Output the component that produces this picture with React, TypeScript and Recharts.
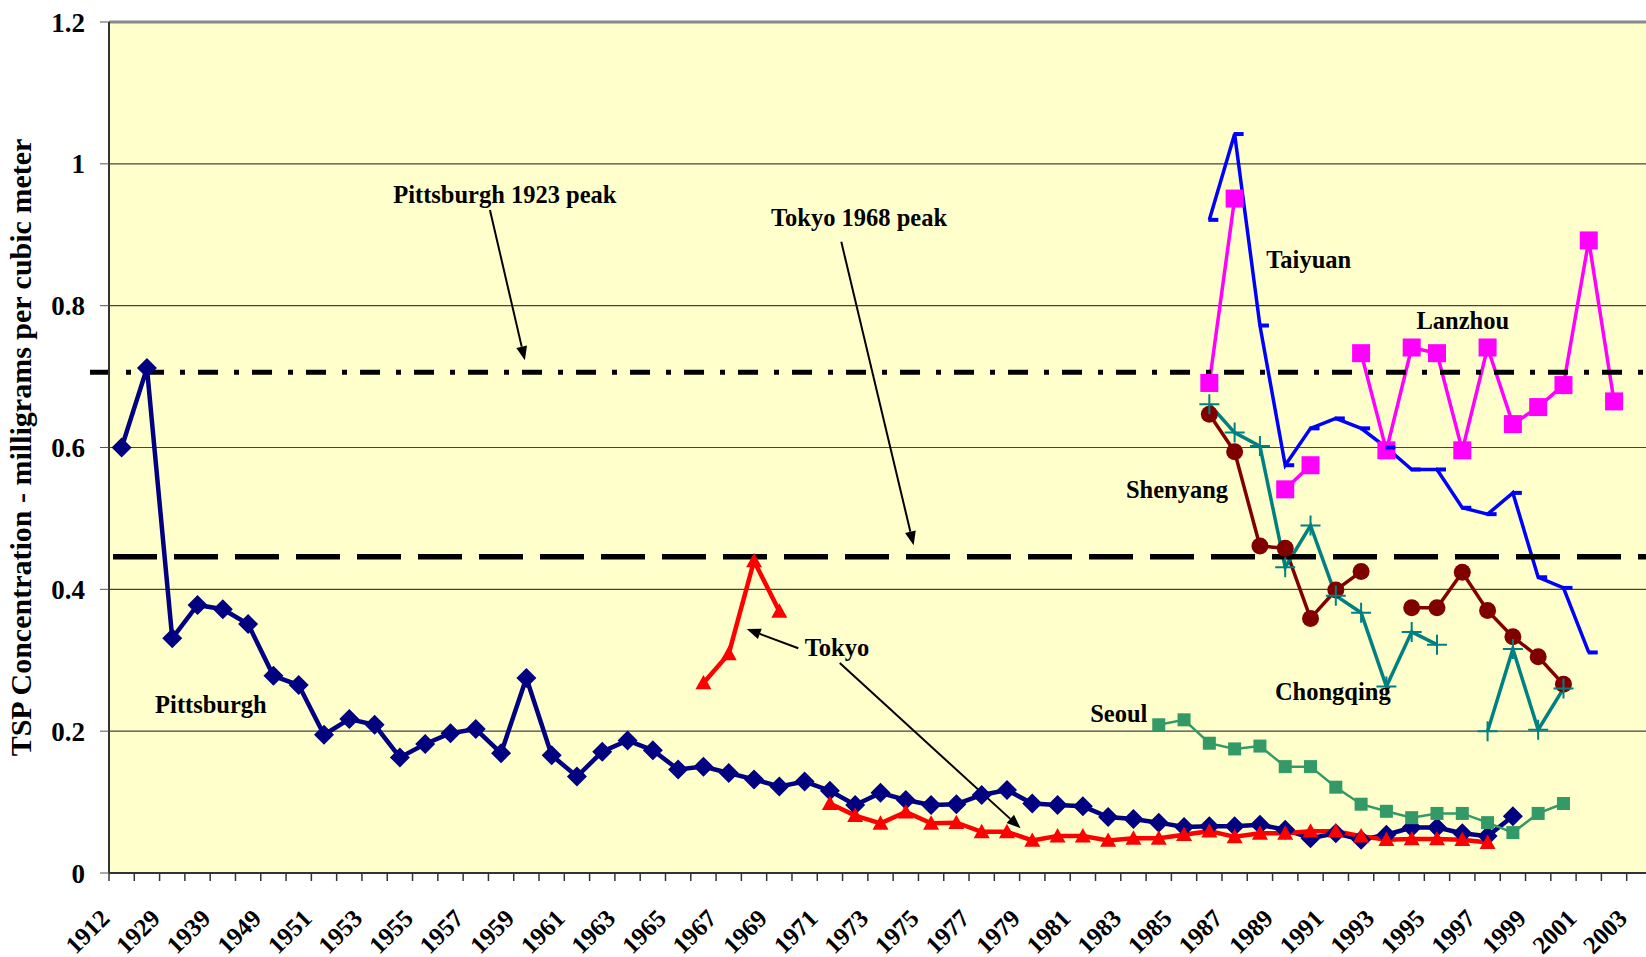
import React from "react";
import { CartesianGrid, Line, LineChart, ReferenceDot, ReferenceLine, XAxis, YAxis } from "recharts";

const FONT = "'Liberation Serif', 'Times New Roman', serif";

const years = [
  "1912", "1923", "1929", "1934", "1939", "1944", "1949", "1950", "1951", "1952",
  "1953", "1954", "1955", "1956", "1957", "1958", "1959", "1960", "1961", "1962",
  "1963", "1964", "1965", "1966", "1967", "1968", "1969", "1970", "1971", "1972",
  "1973", "1974", "1975", "1976", "1977", "1978", "1979", "1980", "1981", "1982",
  "1983", "1984", "1985", "1986", "1987", "1988", "1989", "1990", "1991", "1992",
  "1993", "1994", "1995", "1996", "1997", "1998", "1999", "2000", "2001", "2002",
  "2003",
];

// each series starts at the year given by its *Start index
const pittsburghStart = 0;
const pittsburgh = [
  0.6, 0.712, 0.331, 0.378, 0.372, 0.351, 0.278, 0.265, 0.195, 0.217,
  0.209, 0.163, 0.182, 0.197, 0.203, 0.169, 0.275, 0.166, 0.136, 0.171,
  0.187, 0.173, 0.146, 0.15, 0.141, 0.132, 0.122, 0.129, 0.116, 0.096,
  0.113, 0.103, 0.096, 0.097, 0.11, 0.117, 0.098, 0.096, 0.094, 0.079,
  0.076, 0.071, 0.065, 0.066, 0.066, 0.068, 0.061, 0.049, 0.056, 0.047,
  0.054, 0.064, 0.064, 0.056, 0.052, 0.08,
];

const tokyoStart = 23;
const tokyo = [
  0.268, 0.309, 0.44, 0.369, null, 0.098, 0.081, 0.07, 0.086, 0.07,
  0.071, 0.058, 0.058, 0.046, 0.052, 0.052, 0.046, 0.049, 0.049, 0.054,
  0.059, 0.051, 0.056, 0.056, 0.059, 0.059, 0.052, 0.047, 0.048, 0.048,
  0.047, 0.043,
];

const seoulStart = 41;
const seoul = [
  0.209, 0.216, 0.183, 0.175, 0.179, 0.15, 0.15, 0.121, 0.097, 0.087,
  0.078, 0.084, 0.084, 0.071, 0.057, 0.084, 0.098,
];

const lanzhouStart = 43;
const lanzhou = [
  0.691, 0.951, null, 0.541, 0.575, null, 0.733, 0.596, 0.741, 0.733,
  0.596, 0.741, 0.633, 0.657, 0.688, 0.892, 0.665,
];

const taiyuanStart = 43;
const taiyuan = [
  0.921, 1.042, 0.772, 0.575, 0.627, 0.641, 0.627, 0.6, 0.569, 0.569,
  0.515, 0.506, 0.536, 0.417, 0.402, 0.311,
];

const shenyangStart = 43;
const shenyang = [
  0.647, 0.594, 0.461, 0.458, 0.359, 0.399, 0.425, null, 0.374, 0.374,
  0.424, 0.37, 0.333, 0.305, 0.266,
];

const chongqingStart = 43;
const chongqing = [
  0.661, 0.621, 0.602, 0.431, 0.49, 0.391, 0.367, 0.263, 0.34, 0.322,
  null, 0.2, 0.316, 0.202, 0.26,
];

const yTicks = [0, 0.2, 0.4, 0.6, 0.8, 1, 1.2];
const peakValues = [0.706, 0.446]; // Pittsburgh 1923, Tokyo 1968

// text notes: x = category index, y = TSP value
const notes = [
  { text: "Pittsburgh 1923 peak", x: 15.15, y: 0.945 },
  { text: "Tokyo 1968 peak", x: 29.15, y: 0.913 },
  { text: "Tokyo", x: 28.28, y: 0.306 },
  { text: "Pittsburgh", x: 3.53, y: 0.226 },
  { text: "Seoul", x: 39.42, y: 0.213 },
  { text: "Shenyang", x: 41.72, y: 0.529 },
  { text: "Chongqing", x: 47.88, y: 0.244 },
  { text: "Taiyuan", x: 46.93, y: 0.853 },
  { text: "Lanzhou", x: 53.02, y: 0.767 },
];

const arrows = [
  { x1: 14.56, y1: 0.935, x2: 15.94, y2: 0.723 },
  { x1: 28.45, y1: 0.89, x2: 31.31, y2: 0.462 },
  { x1: 26.75, y1: 0.317, x2: 24.71, y2: 0.344 },
  { x1: 28.39, y1: 0.296, x2: 35.54, y2: 0.063 },
];

const pick = (arr: (number | null)[], start: number, i: number) => {
  const v = arr[i - start];
  return v === undefined ? null : v;
};

const data = years.map((year, i) => ({
  i,
  year,
  pittsburgh: pick(pittsburgh, pittsburghStart, i),
  tokyo: pick(tokyo, tokyoStart, i),
  seoul: pick(seoul, seoulStart, i),
  lanzhou: pick(lanzhou, lanzhouStart, i),
  taiyuan: pick(taiyuan, taiyuanStart, i),
  shenyang: pick(shenyang, shenyangStart, i),
  chongqing: pick(chongqing, chongqingStart, i),
}));

const boundaries = years.map((_, k) => k - 0.5);

type Marker = "diamond" | "triangle" | "square" | "circle" | "plus" | "dash";

const makeDot = (kind: Marker, color: string, size: number) => (props: any) => {
  const { cx, cy, index, value } = props;
  const key = `${kind}-${color}-${index}`;
  if (cx == null || cy == null || value == null || Number.isNaN(cy)) return <g key={key} />;
  const h = size / 2;
  switch (kind) {
    case "diamond":
      return <polygon key={key} points={`${cx},${cy - h} ${cx + h},${cy} ${cx},${cy + h} ${cx - h},${cy}`} fill={color} />;
    case "triangle":
      return <polygon key={key} points={`${cx},${cy - h} ${cx + h},${cy + h * 0.8} ${cx - h},${cy + h * 0.8}`} fill={color} />;
    case "square":
      return <rect key={key} x={cx - h} y={cy - h} width={size} height={size} fill={color} />;
    case "circle":
      return <circle key={key} cx={cx} cy={cy} r={h} fill={color} />;
    case "plus":
      return (
        <path key={key} d={`M${cx - h},${cy}H${cx + h}M${cx},${cy - h}V${cy + h}`} stroke={color} strokeWidth={2} fill="none" />
      );
    default:
      return <line key={key} x1={cx - 1} y1={cy} x2={cx + size} y2={cy} stroke={color} strokeWidth={4} />;
  }
};

// year labels sit on every second category boundary, turned 45 degrees
const XTick = (props: any) => {
  const { x, y, payload } = props;
  const k = Math.round(payload.value + 0.5);
  if (k % 2 !== 0 || !years[k]) return <g />;
  return (
    <g transform={`translate(${x + 2},${y + 37}) rotate(-45)`}>
      <text x={0} y={0} textAnchor="end" fontFamily={FONT} fontWeight="bold" fontSize={25} fill="#000">
        {years[k]}
      </text>
    </g>
  );
};

const arrowShape = (props: any) => {
  const { x1, y1, x2, y2 } = props;
  const ang = Math.atan2(y2 - y1, x2 - x1);
  const len = 14;
  const half = 5.5;
  const bx = x2 - len * Math.cos(ang);
  const by = y2 - len * Math.sin(ang);
  const px = -Math.sin(ang) * half;
  const py = Math.cos(ang) * half;
  return (
    <g>
      <line x1={x1} y1={y1} x2={bx} y2={by} stroke="#000" strokeWidth={2} />
      <polygon points={`${x2},${y2} ${bx + px},${by + py} ${bx - px},${by - py}`} fill="#000" />
    </g>
  );
};

const yTitle = (props: any) => {
  const vb = props.viewBox || { x: 0, y: 22, width: 109, height: 851 };
  const cx = vb.x + 31;
  const cy = vb.y + vb.height / 2;
  return (
    <g transform={`translate(${cx},${cy}) rotate(-90)`}>
      <text x={0} y={0} textAnchor="middle" fontFamily={FONT} fontWeight="bold" fontSize={30} fill="#000">
        TSP Concentration - milligrams per cubic meter
      </text>
    </g>
  );
};

export default function App() {
  return (
    <div
      style={{
        position: "absolute",
        left: 0,
        top: 0,
        width: 1646,
        height: 957,
        overflow: "hidden",
        background: "#fff",
        fontFamily: FONT,
      }}
    >
      <LineChart width={1680} height={957} data={data} margin={{ top: 22, right: 28, bottom: 0, left: 0 }}>
        <CartesianGrid vertical={false} fill="#FFFFCC" stroke="#444" strokeWidth={1.2} />
        <XAxis
          dataKey="i"
          type="number"
          domain={[-0.5, 60.5]}
          ticks={boundaries}
          interval={0}
          height={84}
          tick={<XTick />}
          tickSize={8}
          tickMargin={2}
          tickLine={{ stroke: "#333", strokeWidth: 1.5 }}
          axisLine={{ stroke: "#333", strokeWidth: 2 }}
        />
        <YAxis
          type="number"
          domain={[0, 1.2]}
          ticks={yTicks}
          interval={0}
          width={109}
          tickSize={9}
          tickMargin={15}
          tickFormatter={(v: number) => String(v)}
          tick={{ fill: "#000", fontSize: 27, fontWeight: "bold", fontFamily: FONT }}
          tickLine={{ stroke: "#555" }}
          axisLine={{ stroke: "#333", strokeWidth: 2 }}
          label={{ content: yTitle }}
        />
        <ReferenceLine y={1.2} stroke="#888" strokeWidth={3} />

        <Line type="linear" dataKey="pittsburgh" stroke="#000080" strokeWidth={4.5} dot={makeDot("diamond", "#000080", 20)} activeDot={false} isAnimationActive={false} />
        <Line type="linear" dataKey="tokyo" stroke="#FF0000" strokeWidth={4.5} dot={makeDot("triangle", "#FF0000", 16)} activeDot={false} isAnimationActive={false} />
        <Line type="linear" dataKey="seoul" stroke="#339966" strokeWidth={2.5} dot={makeDot("square", "#339966", 13)} activeDot={false} isAnimationActive={false} />
        <Line type="linear" dataKey="lanzhou" stroke="#FF00FF" strokeWidth={3.5} dot={makeDot("square", "#FF00FF", 18)} activeDot={false} isAnimationActive={false} />
        <Line type="linear" dataKey="taiyuan" stroke="#0000FF" strokeWidth={3.5} dot={makeDot("dash", "#0000FF", 9)} activeDot={false} isAnimationActive={false} />
        <Line type="linear" dataKey="shenyang" stroke="#800000" strokeWidth={3.5} dot={makeDot("circle", "#800000", 17)} activeDot={false} isAnimationActive={false} />
        <Line type="linear" dataKey="chongqing" stroke="#008080" strokeWidth={3.5} dot={makeDot("plus", "#008080", 20)} activeDot={false} isAnimationActive={false} />

        <ReferenceLine
          segment={[{ x: -1.25, y: peakValues[0] }, { x: 60.5, y: peakValues[0] }]}
          ifOverflow="visible"
          stroke="#000"
          strokeWidth={5}
          strokeDasharray="20 16 5 13"
        />
        <ReferenceLine
          segment={[{ x: -0.5, y: peakValues[1] }, { x: 60.5, y: peakValues[1] }]}
          ifOverflow="visible"
          stroke="#000"
          strokeWidth={5.5}
          strokeDasharray="44 17"
          strokeDashoffset={-4}
        />

        {arrows.map((a, n) => (
          <ReferenceLine
            key={`arrow-${n}`}
            segment={[{ x: a.x1, y: a.y1 }, { x: a.x2, y: a.y2 }]}
            ifOverflow="visible"
            shape={arrowShape}
          />
        ))}

        {notes.map((n) => (
          <ReferenceDot
            key={n.text}
            x={n.x}
            y={n.y}
            r={0}
            ifOverflow="visible"
            shape={(p: any) => (
              <text x={p.cx} y={p.cy} textAnchor="middle" fontFamily={FONT} fontWeight="bold" fontSize={24.5} fill="#000">
                {n.text}
              </text>
            )}
          />
        ))}
      </LineChart>
    </div>
  );
}
